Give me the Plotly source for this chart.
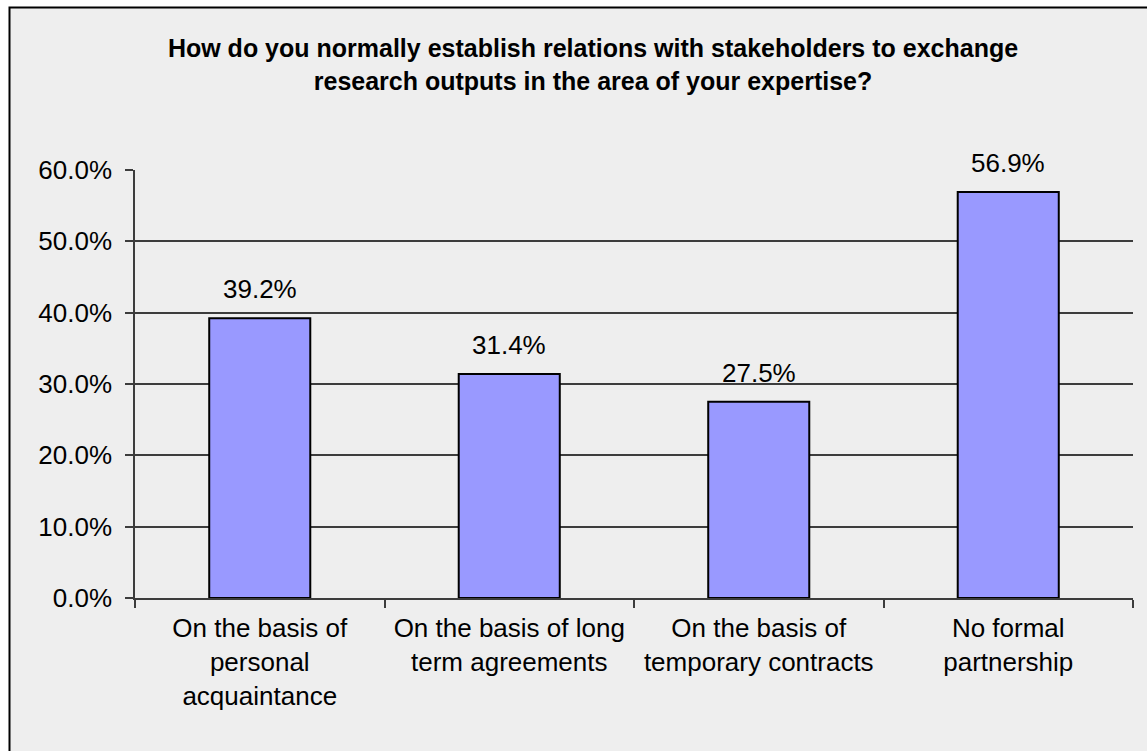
import plotly.graph_objects as go

# Survey responses
categories = [
    "On the basis of<br>personal<br>acquaintance",
    "On the basis of long<br>term agreements",
    "On the basis of<br>temporary contracts",
    "No formal<br>partnership",
]
shares = [39.2, 31.4, 27.5, 56.9]
y_ticks = [0, 10, 20, 30, 40, 50, 60]
y_tick_labels = [f"{v:.1f}%" for v in y_ticks]

title_text = ("How do you normally establish relations with stakeholders to exchange"
              "<br>research outputs in the area of your expertise?")

W, H = 1147, 751
L, R, T, B = 135, 14, 170, 153
pw, ph = W - L - R, H - T - B


def px_x(p):
    return (p - L) / pw


def px_y(p):
    return (H - B - p) / ph


font_family = "Liberation Sans, Arial, sans-serif"
grid_col = "#3c3c3c"

fig = go.Figure()
fig.add_trace(go.Bar(
    x=categories,
    y=shares,
    width=0.405,
    marker=dict(color="#9999ff", line=dict(color="#000000", width=2)),
    hoverinfo="skip",
))

# value labels above the bars
for c, v in zip(categories, shares):
    fig.add_annotation(
        x=c, y=v, text=f"{v:.1f}%", showarrow=False,
        yanchor="bottom", yshift=12,
        font=dict(family=font_family, size=26, color="#000000"),
    )

# chart frame
fig.add_shape(
    type="rect", xref="paper", yref="paper",
    x0=px_x(9.5), x1=px_x(1170), y0=px_y(780), y1=px_y(7.5),
    line=dict(color="#000000", width=2), fillcolor="#eeeeee", layer="below",
)

fig.update_layout(
    width=W, height=H,
    margin=dict(l=L, r=R, t=T, b=B),
    paper_bgcolor="#ffffff",
    plot_bgcolor="rgba(0,0,0,0)",
    showlegend=False,
    title=dict(
        text=title_text,
        x=px_x(593), xref="paper", xanchor="center",
        y=1 - 57 / H, yref="container", yanchor="top",
        font=dict(family=font_family, size=25, color="#000000", weight="bold"),
    ),
    xaxis=dict(
        type="category",
        tickson="boundaries",
        ticks="outside", ticklen=8, tickwidth=1.5, tickcolor=grid_col,
        showline=True, linecolor=grid_col, linewidth=1.5,
        showgrid=False,
        tickfont=dict(family=font_family, size=26, color="#000000"),
        ticklabelstandoff=6,
        range=[-0.5, 3.5],
    ),
    yaxis=dict(
        range=[0, 60],
        tickvals=y_ticks, ticktext=y_tick_labels,
        ticks="outside", ticklen=8, tickwidth=1.5, tickcolor=grid_col,
        showline=True, linecolor=grid_col, linewidth=1.5,
        showgrid=True, gridcolor=grid_col, gridwidth=1.5,
        zeroline=False,
        tickfont=dict(family=font_family, size=26, color="#000000"),
        ticklabelstandoff=8,
    ),
    bargap=0.6,
)

fig.write_html("out.html")
